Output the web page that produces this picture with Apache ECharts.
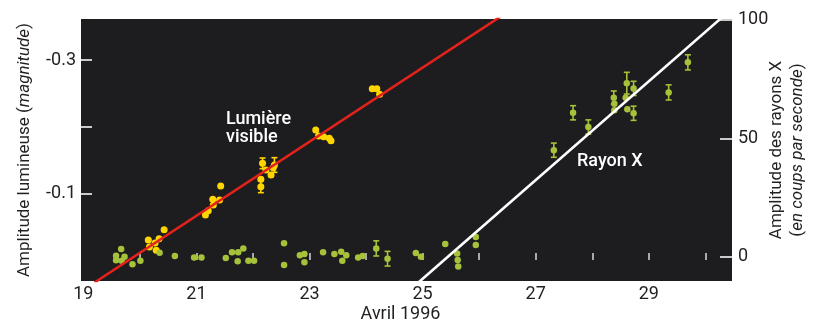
<!DOCTYPE html>
<html lang="fr">
<head>
    <meta charset="UTF-8">
    <title>Lumière visible et rayons X</title>
    <style>
        html, body { margin: 0; padding: 0; background: #fff; }
    </style>
</head>
<body>
<div id="chart" style="width:814px; height:322px;"></div>
<script src="https://cdn.jsdelivr.net/npm/echarts@6/dist/echarts.min.js"></script>
<script>
    // --- données ---
    // lumière visible (axe gauche, magnitude)
    var visibleDay = [20.15, 20.17, 20.27, 20.34, 20.29, 20.43,
        21.16, 21.21, 21.30, 21.29, 21.41, 21.43,
        22.14, 22.14, 22.17, 22.23, 22.32, 22.36, 22.38,
        23.11, 23.16, 23.25, 23.35, 23.38,
        24.11, 24.19, 24.24]
    var visibleMag = [-0.030, -0.0195, -0.0255, -0.032, -0.0145, -0.0455,
        -0.0675, -0.074, -0.0825, -0.091, -0.090, -0.111,
        -0.110, -0.121, -0.145, -0.135, -0.1275, -0.1385, -0.1425,
        -0.195, -0.186, -0.185, -0.1826, -0.179,
        -0.257, -0.257, -0.2486]
    var visibleErr = [0, 0, 0, 0, 0, 0,
        0, 0, 0, 0, 0, 0,
        0.009, 0, 0.008, 0, 0, 0, 0.011,
        0, 0, 0, 0, 0,
        0, 0, 0]

    // rayons X (axe droit, coups par seconde)
    var xrayDay = [19.67, 19.58, 19.73, 19.58, 19.68, 19.87, 20.01, 20.35, 20.62,
        20.96, 21.09, 21.52, 21.63, 21.74, 21.83, 21.73, 21.92, 22.02,
        22.55, 22.55, 22.83, 22.91, 22.91, 23.24, 23.44, 23.56, 23.65, 23.58,
        23.86, 23.94, 24.18, 24.38, 24.88, 24.97, 25.40, 25.61, 25.62, 25.63,
        25.94, 25.94,
        27.32, 27.66, 27.93, 28.38, 28.39, 28.39, 28.61, 28.59, 28.62,
        28.73, 28.73, 29.35, 29.69]
    var xrayRate = [3.25, 0.4, 0, -1.5, -1.7, -3.2, -1.7, 1.7, 0.3,
        -0.3, -0.3, -0.55, 1.85, 1.85, 3.5, -1.95, -1.7, -1.7,
        5.7, -3.5, 0.6, 1.1, -2.4, 1.85, 1.1, 2.1, 0.6, -1.7,
        -0.3, 0.3, 3.5, -0.85, 1.6, 0, 5.4, 1.3, -1.4, -4.1,
        8.3, 4.9,
        45.0, 60.8, 54.8, 67.2, 64.6, 61.9, 73.3, 67.2, 62.3,
        71.1, 60.6, 69.4, 82.1]
    var xrayErr = [0, 0, 0, 0, 0, 0, 0, 0, 0,
        0, 0, 0, 0, 0, 0, 0, 0, 0,
        0, 0, 0, 0, 0, 0, 0, 0, 0, 0,
        0, 0, 3.2, 3.1, 0, 0, 0, 0, 0, 0,
        0, 0,
        3.0, 3.0, 3.0, 2.8, 0, 0, 4.6, 0, 0,
        3.0, 3.0, 3.2, 3.2]

    // droites d'ajustement (extrémités)
    var visibleFit = [[19.2, 0.0337], [26.4, -0.3664]]
    var xrayFit = [[24.9, -11.44], [30.3, 101.23]]

    // graduations
    var dayTicks = [20, 21, 22, 23, 24, 25, 26, 27, 28, 29, 30]
    var dayLabels = [19, 21, 23, 25, 27, 29]
    var magTicks = [-0.3, -0.2, -0.1]
    var magLabels = [-0.3, -0.1]
    var rateTicks = [0, 50, 100]

    var FONT = 'Roboto, sans-serif'
    var INK = '#231f20'
    var YELLOW = '#ffd500'
    var GREEN = '#a5c23a'

    function zip(xs, ys, es) {
        return xs.map(function (x, i) { return [x, ys[i], es[i]] })
    }

    function errorBars(color) {
        return function (params, api) {
            var x = api.value(0), y = api.value(1), e = api.value(2)
            if (!e) return
            var a = api.coord([x, y - e])
            var b = api.coord([x, y + e])
            var w = 3
            var style = { stroke: color, lineWidth: 1.6 }
            return {
                type: 'group',
                children: [
                    { type: 'line', shape: { x1: a[0], y1: a[1], x2: b[0], y2: b[1] }, style: style },
                    { type: 'line', shape: { x1: a[0] - w, y1: a[1], x2: a[0] + w, y2: a[1] }, style: style },
                    { type: 'line', shape: { x1: b[0] - w, y1: b[1], x2: b[0] + w, y2: b[1] }, style: style }
                ]
            }
        }
    }

    var chart = echarts.init(document.getElementById('chart'))
    chart.setOption({
        animation: false,
        textStyle: { fontFamily: FONT },
        grid: {
            left: 81, right: 82, top: 19, bottom: 41,
            outerBoundsMode: 'none',
            containLabel: false,
            show: true, backgroundColor: '#1d1c1f', borderWidth: 0
        },
        xAxis: {
            type: 'value',
            min: 18.96,
            max: 30.47,
            axisLine: { show: false },
            splitLine: { show: false },
            axisTick: {
                inside: true, length: 7, customValues: dayTicks,
                lineStyle: { color: '#d8d8d8', width: 1.5 }
            },
            axisLabel: {
                customValues: dayLabels, color: INK,
                fontSize: 18, fontFamily: FONT, margin: 4
            },
            name: 'Avril 1996',
            nameLocation: 'middle',
            nameGap: 24,
            nameMoveOverlap: false,
            nameTextStyle: { color: INK, fontSize: 18, fontFamily: FONT, padding: [0, 12, 0, 0] }
        },
        yAxis: [
            {
                type: 'value',
                position: 'left',
                inverse: true,
                min: -0.3615,
                max: 0.0315,
                axisLine: { show: false },
                splitLine: { show: false },
                axisTick: {
                    inside: true, length: 11, customValues: magTicks,
                    lineStyle: { color: '#e0e0e0', width: 1.8 }
                },
                axisLabel: {
                    customValues: magLabels, color: INK,
                    fontSize: 18, fontFamily: FONT, margin: 5,
                    formatter: function (v) { return v.toFixed(1) }
                },
                name: '{n|Amplitude lumineuse (}{i|magnitude}{n|)}',
                nameLocation: 'middle',
                nameRotate: 90,
                nameGap: 48,
                nameMoveOverlap: false,
                nameTextStyle: {
                    rich: {
                        n: { fontSize: 17, color: INK, fontFamily: FONT },
                        i: { fontSize: 17, color: INK, fontFamily: FONT, fontStyle: 'italic' }
                    }
                }
            },
            {
                type: 'value',
                position: 'right',
                min: -10.27,
                max: 100.42,
                axisLine: { show: false },
                splitLine: { show: false },
                axisTick: {
                    inside: true, length: 12, customValues: rateTicks,
                    lineStyle: { color: '#e0e0e0', width: 1.8 }
                },
                axisLabel: {
                    customValues: rateTicks, color: INK,
                    fontSize: 18, fontFamily: FONT, margin: 6
                },
                name: '{n|Amplitude des rayons X}\n{n|(}{i|en coups par seconde}{n|)}',
                nameLocation: 'middle',
                nameRotate: 90,
                nameGap: 34,
                nameMoveOverlap: false,
                nameTextStyle: {
                    lineHeight: 21,
                    rich: {
                        n: { fontSize: 17, lineHeight: 21, color: INK, fontFamily: FONT },
                        i: { fontSize: 17, lineHeight: 21, color: INK, fontFamily: FONT, fontStyle: 'italic' }
                    }
                }
            }
        ],
        graphic: [
            {
                type: 'text', left: 226, top: 110, z: 100,
                style: { text: 'Lumière\nvisible', fill: '#ffffff', font: '500 18px ' + FONT, lineHeight: 18 }
            },
            {
                type: 'text', left: 577, top: 152, z: 100,
                style: { text: 'Rayon X', fill: '#ffffff', font: '500 18px ' + FONT }
            }
        ],
        series: [
            {
                name: 'ajustement visible',
                type: 'line',
                yAxisIndex: 0,
                data: visibleFit,
                symbol: 'none',
                lineStyle: { color: '#e3221c', width: 2.6 }
            },
            {
                name: 'ajustement X',
                type: 'line',
                yAxisIndex: 1,
                data: xrayFit,
                symbol: 'none',
                lineStyle: { color: '#ffffff', width: 2.6 }
            },
            {
                name: 'barres visible',
                type: 'custom',
                yAxisIndex: 0,
                data: zip(visibleDay, visibleMag, visibleErr),
                encode: { x: 0, y: 1 },
                renderItem: errorBars(YELLOW)
            },
            {
                name: 'barres X',
                type: 'custom',
                yAxisIndex: 1,
                data: zip(xrayDay, xrayRate, xrayErr),
                encode: { x: 0, y: 1 },
                renderItem: errorBars(GREEN)
            },
            {
                name: 'Lumière visible',
                type: 'scatter',
                yAxisIndex: 0,
                data: zip(visibleDay, visibleMag, visibleErr),
                symbolSize: 7,
                itemStyle: { color: YELLOW, opacity: 1 }
            },
            {
                name: 'Rayon X',
                type: 'scatter',
                yAxisIndex: 1,
                data: zip(xrayDay, xrayRate, xrayErr),
                symbolSize: 6.5,
                itemStyle: { color: GREEN, opacity: 1 }
            }
        ]
    })
</script>
</body>
</html>
